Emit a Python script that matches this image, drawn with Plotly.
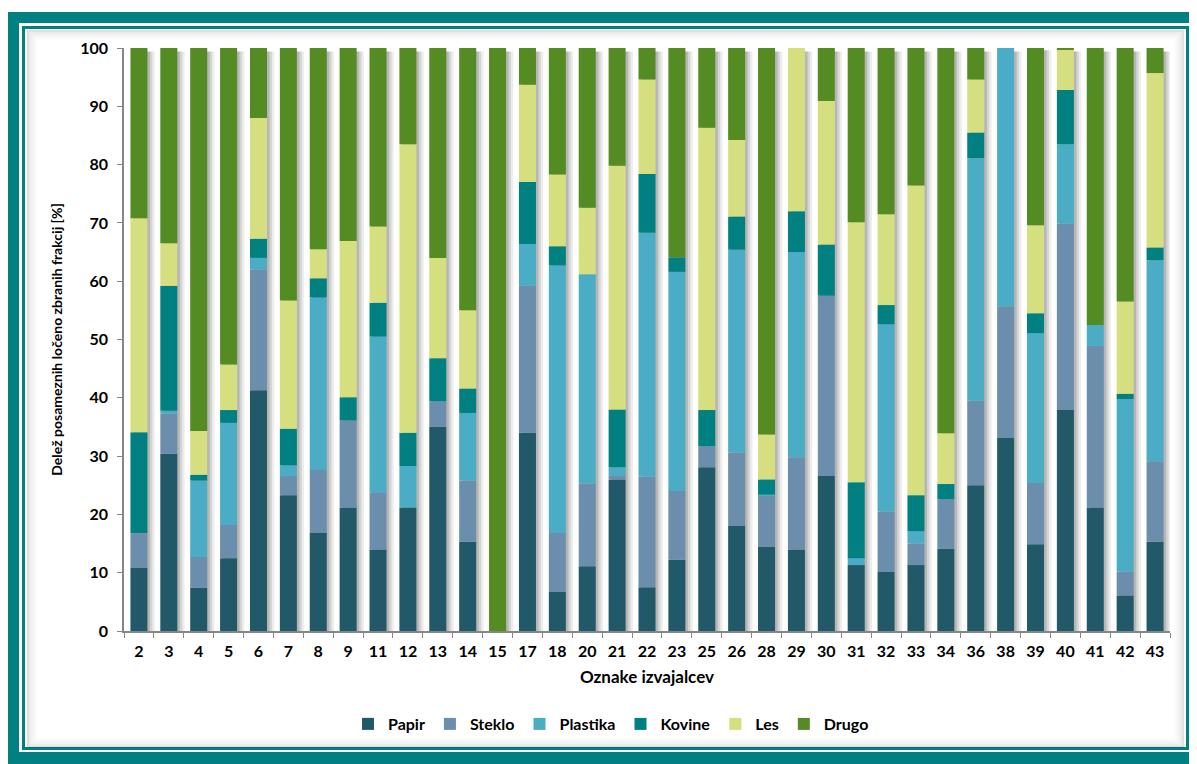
import plotly.graph_objects as go

categories = ["2", "3", "4", "5", "6", "7", "8", "9", "11", "12", "13", "14", "15",
              "17", "18", "20", "21", "22", "23", "25", "26", "28", "29", "30", "31",
              "32", "33", "34", "36", "38", "39", "40", "41", "42", "43"]

papir    = [10.8, 30.4, 7.4, 12.5, 41.3, 23.3, 16.8, 21.2, 14.0, 21.2, 35.0, 15.3, 0.0,
            34.0, 6.7, 11.1, 26.0, 7.5, 12.2, 28.1, 18.0, 14.4, 14.0, 26.6, 11.3,
            10.1, 11.3, 14.1, 25.0, 33.1, 14.9, 37.9, 21.2, 6.1, 15.3]
steklo   = [6.0, 6.9, 5.3, 5.7, 20.7, 3.3, 10.8, 14.9, 9.8, 0.0, 4.4, 10.5, 0.0,
            25.2, 10.1, 14.2, 0.6, 19.0, 11.8, 3.6, 12.6, 8.8, 15.8, 30.9, 0.0,
            10.4, 3.7, 8.5, 14.5, 22.6, 10.5, 32.0, 27.7, 4.1, 13.8]
plastika = [0.0, 0.5, 13.1, 17.5, 2.0, 1.8, 29.6, 0.0, 26.7, 7.1, 0.0, 11.6, 0.0,
            7.2, 45.9, 35.9, 1.5, 41.8, 37.6, 0.0, 34.8, 0.2, 35.2, 0.0, 1.2,
            32.1, 2.1, 0.0, 41.6, 44.3, 25.7, 13.6, 3.6, 29.6, 34.5]
kovine   = [17.3, 21.4, 1.0, 2.2, 3.3, 6.3, 3.3, 4.0, 5.8, 5.7, 7.4, 4.2, 0.0,
            10.6, 3.3, 0.0, 9.9, 10.1, 2.5, 6.2, 5.7, 2.6, 7.0, 8.8, 13.0,
            3.3, 6.2, 2.6, 4.4, 0.0, 3.4, 9.3, 0.0, 0.9, 2.2]
les      = [36.7, 7.3, 7.5, 7.8, 20.7, 22.0, 5.0, 26.8, 13.1, 49.5, 17.2, 13.4, 0.0,
            16.7, 12.3, 11.4, 41.8, 16.2, 0.0, 48.4, 13.1, 7.7, 28.0, 24.6, 44.6,
            15.6, 53.1, 8.7, 9.1, 0.0, 15.1, 6.9, 0.0, 15.8, 29.9]
drugo    = [29.2, 33.5, 65.7, 54.3, 12.0, 43.3, 34.5, 33.1, 30.6, 16.5, 36.0, 45.0, 100.0,
            6.3, 21.7, 27.4, 20.2, 5.4, 35.9, 13.7, 15.8, 66.3, 0.0, 9.1, 29.9,
            28.5, 23.6, 66.1, 5.4, 0.0, 30.6, 0.3, 47.5, 43.5, 4.3]

series_names = ["Papir", "Steklo", "Plastika", "Kovine", "Les", "Drugo"]
series_values = [papir, steklo, plastika, kovine, les, drugo]
series_colors = ["#215968", "#6c8ead", "#4bacc6", "#008080", "#d6df80", "#558b23"]

# the page body has an 8px default margin: figure starts at screen (8, 8)
OFF = 8
W, H = 1197 - OFF, 764 - OFF


def fx(x):
    return (x - OFF) / W


def fy(y):
    return 1 - (y - OFF) / H


FONT = "Lato, 'Open Sans', sans-serif"

fig = go.Figure()

# soft drop shadows to the right of each bar (drawn behind the bars)
totals = [sum(v) for v in zip(*series_values)]
for off, wid, col in [(-0.2, 0.73, "rgba(0,0,0,0.07)"), (-0.2, 0.65, "rgba(0,0,0,0.10)"),
                      (-0.2, 0.57, "rgba(0,0,0,0.14)")]:
    fig.add_trace(go.Bar(x=categories, y=[t - 0.6 for t in totals], base=0,
                         offset=off, width=wid, marker=dict(color=col, line=dict(width=0)),
                         showlegend=False, hoverinfo="skip"))

cum = [0.0] * len(categories)
for name, vals, col in zip(series_names, series_values, series_colors):
    fig.add_trace(go.Bar(x=categories, y=vals, base=list(cum), name=name,
                         offset=-0.285, width=0.57,
                         marker=dict(color=col, line=dict(width=0))))
    cum = [c + v for c, v in zip(cum, vals)]

shapes = []
# thick outer teal band
shapes.append(dict(type="rect", xref="paper", yref="paper", x0=fx(8), x1=fx(1200), y0=fy(767), y1=fy(12),
                   fillcolor="#008080", line=dict(width=0), layer="below"))
shapes.append(dict(type="rect", xref="paper", yref="paper", x0=fx(19), x1=fx(1191), y0=fy(752), y1=fy(23),
                   fillcolor="#ffffff", line=dict(width=0), layer="below"))
# thin inner teal line
shapes.append(dict(type="rect", xref="paper", yref="paper", x0=fx(23.5), x1=fx(1187.5), y0=fy(748.5), y1=fy(27.5),
                   fillcolor="rgba(0,0,0,0)", line=dict(width=3, color="#008080"), layer="below"))
# inner soft shadow
for i, a in enumerate([0.12, 0.08, 0.05, 0.03, 0.015]):
    d = 26 + 2 * (i + 1)
    shapes.append(dict(type="rect", xref="paper", yref="paper",
                       x0=fx(d), x1=fx(1211 - d), y0=fy(775 - d), y1=fy(d + 3),
                       fillcolor="rgba(0,0,0,0)", line=dict(width=2, color=f"rgba(0,0,0,{a})"),
                       layer="below"))

fig.update_layout(
    width=W, height=H,
    margin=dict(l=0, r=0, t=0, b=0, autoexpand=False),
    paper_bgcolor="#ffffff",
    plot_bgcolor="rgba(0,0,0,0)",
    barmode="overlay",
    bargap=0.43,
    shapes=shapes,
    font=dict(family=FONT, color="#000000"),
    showlegend=True,
    legend=dict(orientation="h", x=fx(611), y=fy(724), xanchor="center", yanchor="middle",
                font=dict(family=FONT, size=16, color="#000000", weight="bold"),
                itemwidth=30, tracegroupgap=0, traceorder="normal",
                bgcolor="rgba(0,0,0,0)"),
    xaxis=dict(type="category", domain=[fx(124), fx(1170)], range=[-0.5, len(categories) - 0.5],
               automargin=False,
               showline=True, linecolor="#868686", linewidth=1.5,
               ticks="outside", tickson="boundaries", ticklen=5, tickcolor="#868686",
               tickfont=dict(family=FONT, size=16, color="#000000", weight="bold"),
               ticklabelstandoff=5,
               showgrid=False, zeroline=False,
               title=dict(text="Oznake izvajalcev", standoff=12,
                          font=dict(family=FONT, size=17, color="#000000", weight="bold"))),
    yaxis=dict(domain=[fy(631), fy(48)], range=[0, 100], dtick=10,
               automargin=False,
               showline=True, linecolor="#868686", linewidth=1.5,
               ticks="outside", ticklen=5, tickcolor="#868686",
               tickfont=dict(family=FONT, size=16, color="#000000", weight="bold"),
               ticklabelstandoff=6,
               showgrid=False, zeroline=False,
               title=dict(text="Delež posameznih ločeno zbranih frakcij [%]", standoff=14,
                          font=dict(family=FONT, size=14, color="#000000", weight="bold"))),
)

fig.write_html("out.html")
